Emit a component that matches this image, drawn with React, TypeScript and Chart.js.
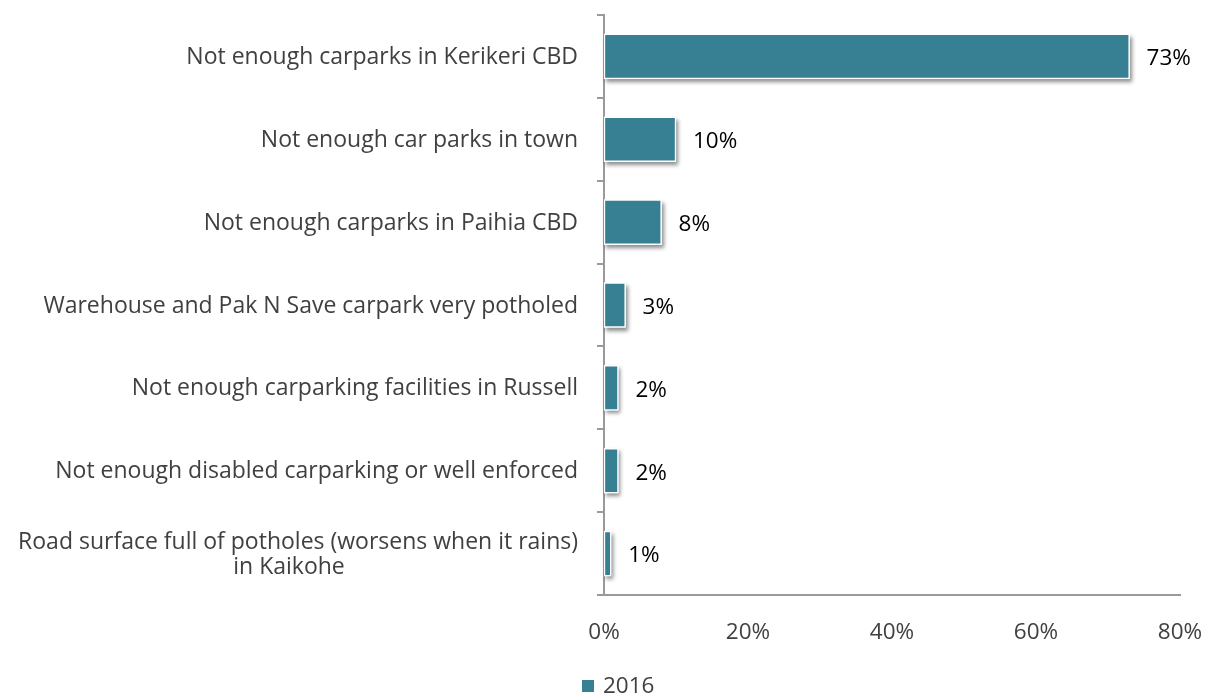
import React, { useEffect, useRef } from "react";
import { Chart, registerables } from "chart.js";

Chart.register(...registerables);

const categories: (string | string[])[] = [
  "Not enough carparks in Kerikeri CBD",
  "Not enough car parks in town",
  "Not enough carparks in Paihia CBD",
  "Warehouse and Pak N Save carpark very potholed",
  "Not enough carparking facilities in Russell",
  "Not enough disabled carparking or well enforced",
  ["Road surface full of potholes (worsens when it rains)", "in Kaikohe"],
];
const values2016 = [73, 10, 8, 3, 2, 2, 1];
const seriesName = "2016";
const xMin = 0;
const xMax = 80;
const xStep = 20;

const FONT = "'Open Sans', sans-serif";
const CAT_SIZE = 23;
const NUM_SIZE = 22.5;
const BAR_COLOR = "#377f93";
const TEXT_GREY = "#404040";
const AXIS_GREY = "#9a9a9a";

const shadowPlugin = {
  id: "barShadow",
  beforeDatasetsDraw(chart: any) {
    const ctx = chart.ctx;
    const meta = chart.getDatasetMeta(0);
    ctx.save();
    ctx.shadowColor = "rgba(0,0,0,0.45)";
    ctx.shadowBlur = 4;
    ctx.shadowOffsetX = 2;
    ctx.shadowOffsetY = 3;
    ctx.fillStyle = "#ffffff";
    meta.data.forEach((bar: any) => {
      const { x, y, base, height } = bar.getProps(["x", "y", "base", "height"], true);
      ctx.fillRect(Math.min(base, x), y - height / 2, Math.abs(x - base), height);
    });
    ctx.restore();
  },
};

const valueLabelPlugin = {
  id: "valueLabels",
  afterDatasetsDraw(chart: any) {
    const ctx = chart.ctx;
    const meta = chart.getDatasetMeta(0);
    ctx.save();
    ctx.font = `${NUM_SIZE}px ${FONT}`;
    ctx.fillStyle = "#000000";
    ctx.textAlign = "left";
    ctx.textBaseline = "middle";
    meta.data.forEach((bar: any, i: number) => {
      const { x, y } = bar.getProps(["x", "y"], true);
      ctx.fillText(`${values2016[i]}%`, x + 17, y + 2.5);
    });
    ctx.restore();
  },
};

const categoryLabelPlugin = {
  id: "categoryLabels",
  afterDraw(chart: any) {
    const ctx = chart.ctx;
    const yScale = chart.scales.y;
    const rightX = chart.chartArea.left - 26;
    const lineH = 25;
    ctx.save();
    ctx.font = `${CAT_SIZE}px ${FONT}`;
    ctx.fillStyle = TEXT_GREY;
    ctx.textBaseline = "middle";
    categories.forEach((lab, i) => {
      const cy = yScale.getPixelForValue(i) + 1;
      const lines = Array.isArray(lab) ? lab : [lab];
      const maxW = Math.max(...lines.map((l) => ctx.measureText(l).width));
      const startY = cy - ((lines.length - 1) * lineH) / 2;
      lines.forEach((l, j) => {
        if (lines.length === 1) {
          ctx.textAlign = "right";
          ctx.fillText(l, rightX, startY + j * lineH);
        } else {
          ctx.textAlign = "center";
          const cx = rightX - maxW / 2 - (j > 0 ? 9 : 0);
          ctx.fillText(l, cx, startY + j * lineH);
        }
      });
    });
    ctx.restore();
  },
};

const legendPlugin = {
  id: "customLegend",
  afterDraw(chart: any) {
    const ctx = chart.ctx;
    const x0 = chart.chartArea.left - 22;
    const cy = 686;
    ctx.save();
    ctx.fillStyle = BAR_COLOR;
    ctx.fillRect(x0, cy - 6, 12, 12);
    ctx.font = `${NUM_SIZE}px ${FONT}`;
    ctx.fillStyle = TEXT_GREY;
    ctx.textAlign = "left";
    ctx.textBaseline = "middle";
    ctx.fillText(seriesName, x0 + 21, cy + 1);
    ctx.restore();
  },
};

export default function App() {
  const canvasRef = useRef<HTMLCanvasElement | null>(null);

  useEffect(() => {
    if (!canvasRef.current) return;
    const chart = new Chart(canvasRef.current, {
      type: "bar",
      data: {
        labels: categories as any,
        datasets: [
          {
            label: seriesName,
            data: values2016,
            backgroundColor: BAR_COLOR,
            borderColor: "#ffffff",
            borderWidth: 1.5,
            borderSkipped: false,
            barThickness: 45,
          },
        ],
      },
      options: {
        indexAxis: "y",
        animation: false,
        responsive: false,
        maintainAspectRatio: false,
        layout: { padding: { top: 15, right: 29, bottom: 0, left: 0 } },
        plugins: {
          legend: { display: false },
          tooltip: { enabled: false },
        },
        scales: {
          x: {
            min: xMin,
            max: xMax,
            ticks: {
              stepSize: xStep,
              padding: 24,
              color: TEXT_GREY,
              font: { family: FONT, size: NUM_SIZE },
              callback: (v: any) => `${v}%`,
            },
            grid: { display: false, drawTicks: false },
            border: { display: true, color: AXIS_GREY, width: 2 },
            afterFit: (scale: any) => {
              scale.height = 100;
              scale.paddingLeft = 0;
              scale.paddingRight = 0;
            },
          },
          y: {
            ticks: { display: false },
            grid: {
              display: true,
              drawOnChartArea: false,
              drawTicks: true,
              tickLength: 7,
              color: AXIS_GREY,
              lineWidth: 2,
            },
            border: { display: true, color: AXIS_GREY, width: 2 },
            afterFit: (scale: any) => {
              scale.width = 604;
            },
          },
        },
      } as any,
      plugins: [shadowPlugin, valueLabelPlugin, categoryLabelPlugin, legendPlugin],
    });
    return () => chart.destroy();
  }, []);

  return (
    <div style={{ position: "fixed", left: 0, top: 0, width: 1209, height: 695, background: "#fff" }}>
      <canvas ref={canvasRef} width={1209} height={695} style={{ width: 1209, height: 695, display: "block" }} />
    </div>
  );
}
